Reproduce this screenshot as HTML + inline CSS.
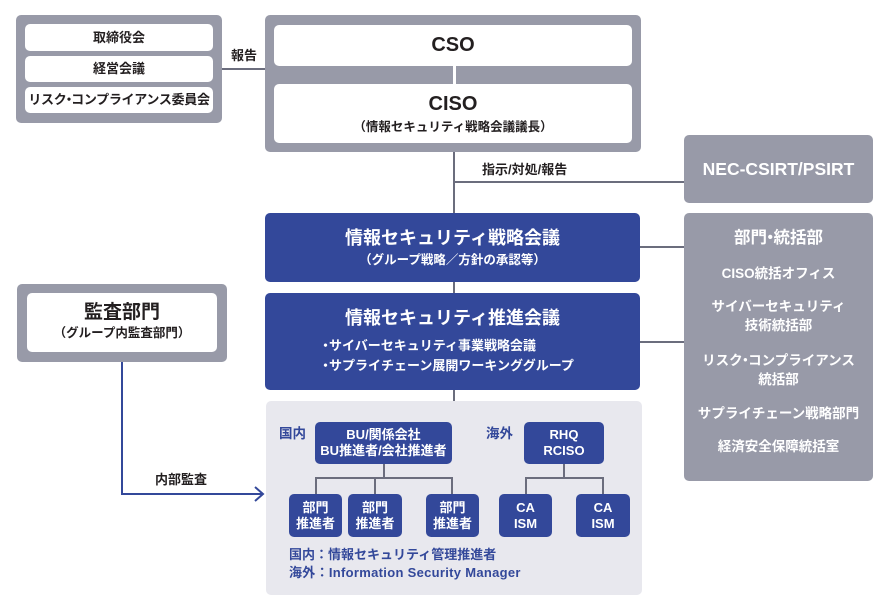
<!DOCTYPE html>
<html><head><meta charset="utf-8">
<style>
*{margin:0;padding:0;box-sizing:border-box}
body{width:890px;height:611px;background:#fff;position:relative;overflow:hidden;font-family:"Liberation Sans","Noto Sans CJK JP",sans-serif;font-weight:700;color:#231f20}
.a{position:absolute}
.c{display:flex;flex-direction:column;align-items:center;justify-content:center;text-align:center;white-space:nowrap}
.r{text-align:center;white-space:nowrap}
.gf{background:#989aa8;border-radius:5px}
.w{background:#fff;border-radius:5px}
.b{background:#33489a;color:#fff;border-radius:5px}
.ln{position:absolute;background:#6b6d7d}
.t{position:absolute;white-space:nowrap}
.d{display:inline-block;margin:0 -4px}
</style></head><body>

<!-- top-left group -->
<div class="a gf" style="left:16px;top:15px;width:206px;height:108px"></div>
<div class="a w r" style="left:25px;top:24px;width:188px;height:27px;font-size:13px;line-height:27px">取締役会</div>
<div class="a w r" style="left:25px;top:56px;width:188px;height:26px;font-size:13px;line-height:26px">経営会議</div>
<div class="a w r" style="left:25px;top:87px;width:188px;height:26px;font-size:13px;line-height:26px;letter-spacing:-0.3px">リスク<span class="d">・</span>コンプライアンス委員会</div>

<div class="ln" style="left:222px;top:68px;width:44px;height:2px"></div>
<div class="t" style="left:231px;top:45px;font-size:13px">報告</div>

<!-- CSO group -->
<div class="a gf" style="left:265px;top:15px;width:376px;height:137px"></div>
<div class="a w c" style="left:274px;top:25px;width:358px;height:41px;font-size:20px">CSO</div>
<div class="a" style="left:453px;top:66px;width:3px;height:18px;background:#fff"></div>
<div class="a w" style="left:274px;top:84px;width:358px;height:59px"></div>
<div class="t" style="left:274px;width:358px;text-align:center;top:91px;font-size:20px;line-height:26px">CISO</div>
<div class="t" style="left:274px;width:358px;text-align:center;top:118px;font-size:12.5px;line-height:18px">（情報セキュリティ戦略会議議長）</div>

<!-- connectors center -->
<div class="ln" style="left:453px;top:152px;width:2px;height:61px"></div>
<div class="ln" style="left:453px;top:181px;width:231px;height:2px"></div>
<div class="t" style="left:482px;top:159px;font-size:13px">指示/対処/報告</div>

<!-- NEC -->
<div class="a gf c" style="left:684px;top:135px;width:189px;height:68px;color:#fff;font-size:17.5px">NEC-CSIRT/PSIRT</div>

<!-- 部門・統括部 -->
<div class="a gf" style="left:684px;top:213px;width:189px;height:268px"></div>
<div class="t" style="left:684px;width:189px;text-align:center;color:#fff;top:226px;font-size:16.5px;line-height:24px">部門<span class="d" style="margin:0 -5px">・</span>統括部</div>
<div class="t" style="left:684px;width:189px;text-align:center;color:#fff;top:264px;font-size:13.5px;line-height:19px">CISO統括オフィス</div>
<div class="t" style="left:684px;width:189px;text-align:center;color:#fff;top:297px;font-size:13.5px;line-height:19px">サイバーセキュリティ<br>技術統括部</div>
<div class="t" style="left:684px;width:189px;text-align:center;color:#fff;top:351px;font-size:13.5px;line-height:19px">リスク<span class="d">・</span>コンプライアンス<br>統括部</div>
<div class="t" style="left:684px;width:189px;text-align:center;color:#fff;top:404px;font-size:13.5px;line-height:19px">サプライチェーン戦略部門</div>
<div class="t" style="left:684px;width:189px;text-align:center;color:#fff;top:437px;font-size:13.5px;line-height:19px">経済安全保障統括室</div>

<div class="ln" style="left:640px;top:246px;width:44px;height:2px"></div>
<div class="ln" style="left:640px;top:341px;width:44px;height:2px"></div>

<!-- blue boxes -->
<div class="a b" style="left:265px;top:213px;width:375px;height:69px"></div>
<div class="t" style="left:265px;width:375px;text-align:center;color:#fff;top:226px;font-size:18px;line-height:24px">情報セキュリティ戦略会議</div>
<div class="t" style="left:265px;width:375px;text-align:center;color:#fff;top:251px;font-size:12.5px;line-height:18px">（グループ戦略／方針の承認等）</div>

<div class="ln" style="left:453px;top:282px;width:2px;height:11px"></div>

<div class="a b" style="left:265px;top:293px;width:375px;height:97px"></div>
<div class="t" style="left:265px;width:375px;text-align:center;color:#fff;top:306px;font-size:18px;line-height:24px">情報セキュリティ推進会議</div>
<div class="t" style="left:319px;color:#fff;top:337px;font-size:13px;line-height:18px"><span style="margin-right:-3px">・</span>サイバーセキュリティ事業戦略会議</div>
<div class="t" style="left:319px;color:#fff;top:357px;font-size:13px;line-height:18px"><span style="margin-right:-3px">・</span>サプライチェーン展開ワーキンググループ</div>

<div class="ln" style="left:453px;top:390px;width:2px;height:11px"></div>

<!-- audit -->
<div class="a gf" style="left:17px;top:284px;width:210px;height:78px"></div>
<div class="a w" style="left:27px;top:293px;width:190px;height:59px"></div>
<div class="t" style="left:27px;width:190px;text-align:center;top:300px;font-size:19px;line-height:26px">監査部門</div>
<div class="t" style="left:27px;width:190px;text-align:center;top:324px;font-size:12.5px;line-height:18px">（グループ内監査部門）</div>

<div class="a" style="left:121px;top:362px;width:2px;height:133px;background:#33489a"></div>
<div class="a" style="left:121px;top:493px;width:141px;height:2px;background:#33489a"></div>
<svg class="a" style="left:252px;top:485px" width="14" height="18"><polyline points="3,2 11,9 3,16" fill="none" stroke="#33489a" stroke-width="2"/></svg>
<div class="t" style="left:155px;top:469px;font-size:13px">内部監査</div>

<!-- light box -->
<div class="a" style="left:266px;top:401px;width:376px;height:194px;background:#e8e8ee;border-radius:5px"></div>
<div class="t" style="left:279px;top:422px;font-size:13.5px;color:#33489a">国内</div>
<div class="t" style="left:486px;top:422px;font-size:13.5px;color:#33489a">海外</div>

<div class="a b c" style="left:315px;top:422px;width:137px;height:42px;font-size:13px;line-height:16px">BU/関係会社<br>BU推進者/会社推進者</div>
<div class="ln" style="left:383px;top:464px;width:2px;height:14px"></div>
<div class="ln" style="left:315px;top:477px;width:138px;height:2px"></div>
<div class="ln" style="left:315px;top:477px;width:2px;height:17px"></div>
<div class="ln" style="left:374px;top:477px;width:2px;height:17px"></div>
<div class="ln" style="left:451px;top:477px;width:2px;height:17px"></div>

<div class="a b c" style="left:289px;top:494px;width:53px;height:43px;font-size:13px;line-height:16px">部門<br>推進者</div>
<div class="a b c" style="left:348px;top:494px;width:54px;height:43px;font-size:13px;line-height:16px">部門<br>推進者</div>
<div class="a b c" style="left:426px;top:494px;width:53px;height:43px;font-size:13px;line-height:16px">部門<br>推進者</div>

<div class="a b c" style="left:524px;top:422px;width:80px;height:42px;font-size:13px;line-height:16px">RHQ<br>RCISO</div>
<div class="ln" style="left:563px;top:464px;width:2px;height:14px"></div>
<div class="ln" style="left:525px;top:477px;width:79px;height:2px"></div>
<div class="ln" style="left:525px;top:477px;width:2px;height:17px"></div>
<div class="ln" style="left:602px;top:477px;width:2px;height:17px"></div>

<div class="a b c" style="left:499px;top:494px;width:53px;height:43px;font-size:13px;line-height:16px">CA<br>ISM</div>
<div class="a b c" style="left:576px;top:494px;width:54px;height:43px;font-size:13px;line-height:16px">CA<br>ISM</div>

<div class="t" style="left:289px;top:546px;font-size:13px;line-height:18px;color:#33489a">国内：情報セキュリティ管理推進者</div>
<div class="t" style="left:289px;top:564px;font-size:13px;line-height:18px;color:#33489a;letter-spacing:0.3px">海外：Information Security Manager</div>

</body></html>
